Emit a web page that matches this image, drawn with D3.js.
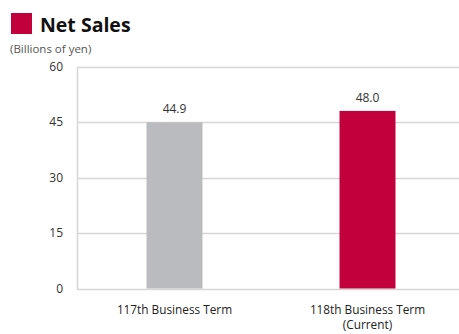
<!DOCTYPE html>
<html>
<head>
<meta charset="utf-8">
<script src="https://cdn.jsdelivr.net/npm/d3@7"></script>
<style>
  html, body { margin: 0; padding: 0; background: #fff; }
  svg { display: block; font-family: "Open Sans", "Noto Sans", sans-serif; }
</style>
</head>
<body>
<svg id="chart" width="459" height="334"></svg>
<script>
// Net sales by business term (billions of yen)
const categories = ["117th Business Term", "118th Business Term"];
const subLabels = ["", "(Current)"];
const values = [44.9, 48.0];
const valueLabels = ["44.9", "48.0"];
const barColors = ["#b9bbbe", "#c2003b"];
const yTicks = [0, 15, 30, 45, 60];

const svg = d3.select("#chart");

const x = d3.scaleBand()
  .domain(categories)
  .range([78, 464])
  .paddingInner(0.71)
  .paddingOuter(0.355);

const y = d3.scaleLinear()
  .domain([0, 60])
  .range([288.5, 66.5]);

// Title block
svg.append("rect")
  .attr("x", 11).attr("y", 13)
  .attr("width", 21).attr("height", 21)
  .attr("fill", "#c2003b");
svg.append("text")
  .attr("x", 40).attr("y", 32)
  .attr("font-size", 19.5).attr("font-weight", 700)
  .attr("fill", "#111")
  .text("Net Sales");
svg.append("text")
  .attr("x", 10).attr("y", 53)
  .attr("font-size", 11.5)
  .attr("fill", "#555")
  .text("(Billions of yen)");

// Horizontal gridlines
svg.append("g")
  .selectAll("line")
  .data(yTicks)
  .join("line")
  .attr("x1", 77).attr("x2", 459)
  .attr("y1", d => Math.round(y(d)) + 0.5)
  .attr("y2", d => Math.round(y(d)) + 0.5)
  .attr("stroke", "#d6d6d6")
  .attr("stroke-width", 1.5);

// Y axis
const yAxis = svg.append("g")
  .attr("transform", "translate(77,0)")
  .call(d3.axisLeft(y).tickValues(yTicks).tickSize(0).tickPadding(14));
yAxis.select(".domain").attr("stroke", "#d6d6d6").attr("stroke-width", 1.5);
yAxis.selectAll("text")
  .attr("font-size", 12)
  .attr("fill", "#333")
  .attr("font-family", "'Open Sans', sans-serif");

// Bars
svg.append("g")
  .selectAll("rect")
  .data(categories)
  .join("rect")
  .attr("x", d => x(d))
  .attr("width", x.bandwidth())
  .attr("y", (d, i) => y(values[i]))
  .attr("height", (d, i) => y(0) - y(values[i]))
  .attr("fill", (d, i) => barColors[i]);

// Value labels
svg.append("g")
  .selectAll("text")
  .data(categories)
  .join("text")
  .attr("x", d => x(d) + x.bandwidth() / 2)
  .attr("y", (d, i) => y(values[i]) - 9)
  .attr("text-anchor", "middle")
  .attr("font-size", 12)
  .attr("fill", "#333")
  .text((d, i) => valueLabels[i]);

// Category labels
const xl = svg.append("g")
  .selectAll("text")
  .data(categories)
  .join("text")
  .attr("text-anchor", "middle")
  .attr("font-size", 11.8)
  .attr("fill", "#222");
xl.append("tspan")
  .attr("x", d => x(d) + x.bandwidth() / 2)
  .attr("y", 314)
  .text(d => d);
xl.append("tspan")
  .attr("x", d => x(d) + x.bandwidth() / 2)
  .attr("y", 329)
  .text((d, i) => subLabels[i]);
</script>
</body>
</html>
